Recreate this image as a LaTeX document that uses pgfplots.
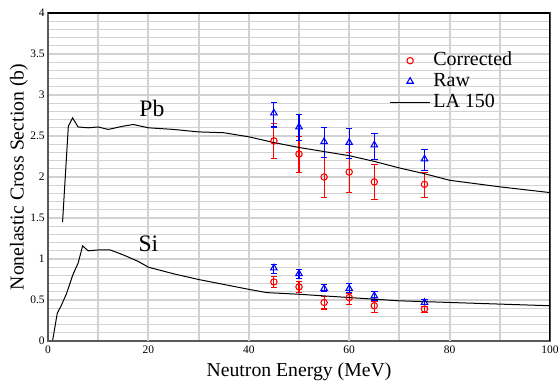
\documentclass[border=0pt]{standalone}
\usepackage{fontspec}
\setmainfont{Liberation Serif}
\newfontfamily\tnr{Liberation Serif}
\usepackage{pgfplots}
\pgfplotsset{compat=1.18}
\usepackage{pgfplotstable}
\usetikzlibrary{calc}

\definecolor{gridgray}{RGB}{210,210,210}
\definecolor{axgray}{RGB}{90,90,90}

\pgfplotstableread{
x y
2.9 1.45
4.05 2.62
4.9 2.72
6.0 2.61
8 2.60
10 2.61
12 2.58
15 2.62
17 2.64
20 2.60
25 2.58
30 2.55
35 2.54
40 2.49
45 2.42
50 2.36
55 2.31
60 2.26
65 2.19
70 2.11
75 2.04
80 1.96
90 1.88
100 1.81
}\pbla

\pgfplotstableread{
x y
0.93 0.01
1.85 0.34
2.7 0.44
3.7 0.58
4.9 0.80
6.0 0.95
6.9 1.16
8.0 1.10
10 1.11
12.4 1.11
15 1.05
18 0.97
20 0.90
25 0.82
30 0.75
35 0.69
40 0.63
43.6 0.59
50 0.57
60 0.53
70 0.49
80 0.47
90 0.45
100 0.43
}\sila

\pgfplotstableread{
x y ep em
45 2.44 0.21 0.21
50 2.28 0.21 0.22
55 2.00 0.24 0.25
60 2.06 0.24 0.25
65 1.94 0.21 0.21
75 1.91 0.15 0.16
}\pbcor

\pgfplotstableread{
x y ep em
45 2.78 0.13 0.17
50 2.61 0.15 0.16
55 2.43 0.17 0.19
60 2.42 0.17 0.20
65 2.39 0.14 0.18
75 2.22 0.12 0.14
}\pbraw

\pgfplotstableread{
x y ep em
45 0.72 0.07 0.07
50 0.66 0.06 0.07
55 0.47 0.07 0.08
60 0.53 0.05 0.09
65 0.43 0.05 0.08
75 0.39 0.03 0.04
}\sicor

\pgfplotstableread{
x y ep em
45 0.89 0.04 0.07
50 0.82 0.05 0.06
55 0.64 0.05 0.04
60 0.64 0.06 0.05
65 0.55 0.05 0.05
75 0.47 0.04 0.03
}\siraw

\begin{document}
\begin{tikzpicture}
\begin{axis}[
  name=ax,
  scale only axis,
  width=376.5pt, height=246pt,
  xmin=0, xmax=100, ymin=0, ymax=4,
  xtick={0,10,20,30,40,50,60,70,80,90,100},
  xticklabels={0,,20,,40,,60,,80,,100},
  ytick={0,0.1,0.2,0.3,0.4,0.5,0.6,0.7,0.8,0.9,1,1.1,1.2,1.3,1.4,1.5,1.6,1.7,1.8,1.9,2,2.1,2.2,2.3,2.4,2.5,2.6,2.7,2.8,2.9,3,3.1,3.2,3.3,3.4,3.5,3.6,3.7,3.8,3.9,4},
  yticklabels={0,,,,,0.5,,,,,1,,,,,1.5,,,,,2,,,,,2.5,,,,,3,,,,,3.5,,,,,4},
  xmajorgrids, ymajorgrids,
  x grid style={gridgray, line width=1.6pt},
  y grid style={gridgray, line width=0.9pt},
  major tick length=0pt,
  axis line style={axgray, line width=1.1pt},
  yticklabel style={font=\tnr\fontsize{8.6}{10}\selectfont},
  xticklabel style={font=\tnr\fontsize{8.6}{10}\selectfont},
  xticklabel shift=0pt, yticklabel shift=-1pt,
  xlabel={Neutron Energy (MeV)},
  ylabel={Nonelastic Cross Section (b)},
  xlabel style={font=\tnr\fontsize{14.8}{16}\selectfont, at={(axis description cs:0.5,-0.0945)}, anchor=center},
  ylabel style={font=\tnr\fontsize{14.8}{16}\selectfont, at={(axis description cs:-0.058,0.5)}, anchor=center},
  legend style={draw=none, fill=none, at={(rel axis cs:0.672,0.893)}, anchor=north west,
    font=\tnr\fontsize{15}{15}\selectfont, row sep=1pt,
    nodes={inner xsep=2pt, inner ysep=0pt, text height=11pt, text depth=3.5pt}},
  legend cell align=left,
  legend image code/.code={\draw[mark repeat=2,mark phase=2,#1] plot coordinates {(0pt,0pt) (15pt,0pt) (30pt,0pt)};},
  error bars/error bar style={line width=0.8pt},
  error bars/error mark options={rotate=90, mark size=2.4pt, line width=0.8pt},
]
\pgfplotsinvokeforeach{20,40,60,80}{\draw[gridgray, line width=1.6pt] (axis cs:#1,0) -- (axis cs:#1,4);}
% Pb
\addplot[only marks, red, mark=o, mark size=2.4pt, line width=0.8pt,
  error bars/.cd, y dir=both, y explicit]
  table[x=x, y=y, y error plus=ep, y error minus=em] {\pbcor};
\addlegendentry{Corrected}
\addplot[only marks, blue, mark=triangle, mark size=2.8pt, line width=0.8pt,
  error bars/.cd, y dir=both, y explicit]
  table[x=x, y=y, y error plus=ep, y error minus=em] {\pbraw};
\addlegendentry{Raw}
\addplot[black, line width=0.75pt, mark=none] table[x=x, y=y] {\pbla};
\addlegendentry{LA 150}
% Si
\addplot[only marks, red, mark=o, mark size=2.4pt, line width=0.8pt, forget plot,
  error bars/.cd, y dir=both, y explicit]
  table[x=x, y=y, y error plus=ep, y error minus=em] {\sicor};
\addplot[only marks, blue, mark=triangle, mark size=2.8pt, line width=0.8pt, forget plot,
  error bars/.cd, y dir=both, y explicit]
  table[x=x, y=y, y error plus=ep, y error minus=em] {\siraw};
\addplot[black, line width=0.75pt, mark=none, forget plot] table[x=x, y=y] {\sila};

\node[font=\tnr\fontsize{17.7}{18}\selectfont] at (axis cs:20.7,2.84) {Pb};
\node[font=\tnr\fontsize{17.7}{18}\selectfont] at (axis cs:20,1.18) {Si};
\draw[black, line width=0.8pt] (rel axis cs:0,1) -- (rel axis cs:1,1) -- (rel axis cs:1,0);
\end{axis}
\pgfresetboundingbox
\path[use as bounding box] ($(ax.south west)+(-36pt,-30pt)$) rectangle ($(ax.north east)+(7.5pt,9.75pt)$);
\end{tikzpicture}
\end{document}
